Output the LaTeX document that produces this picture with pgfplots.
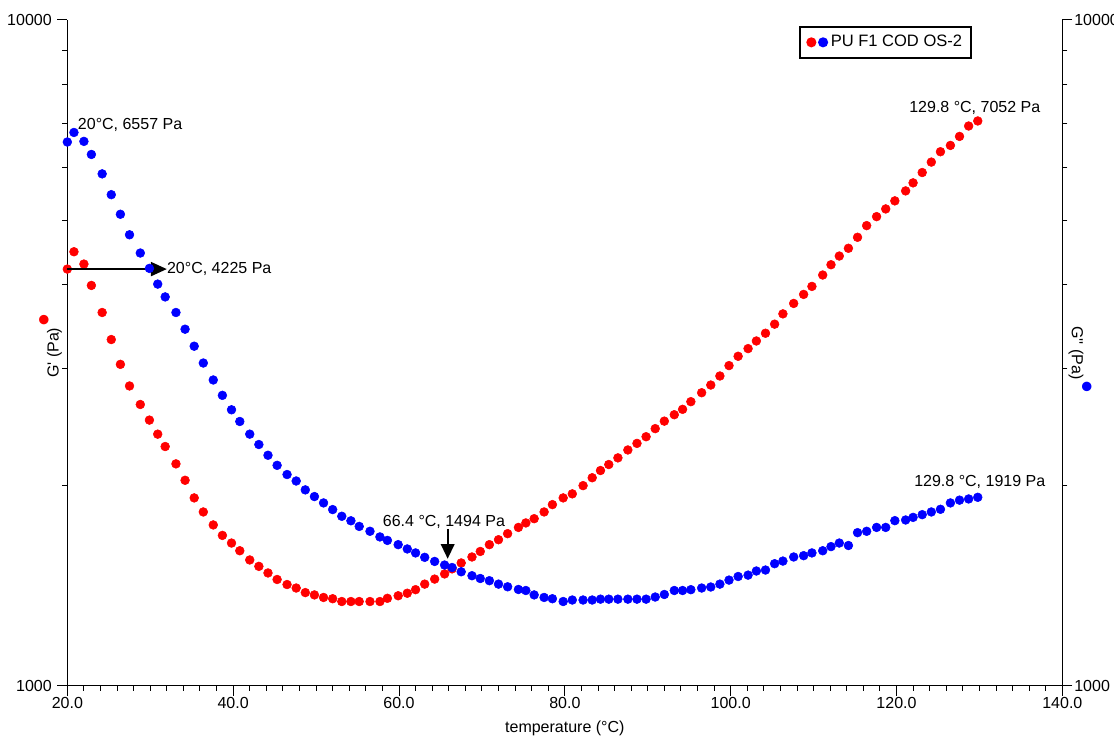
\documentclass[border=0pt]{standalone}
\usepackage{fontspec}
\setmainfont{Liberation Sans}
\newfontfamily\dejavu{DejaVu Sans}
\usepackage{pgfplots}
\pgfplotsset{compat=1.18}
\usepackage{pgfplotstable}
\usetikzlibrary{arrows.meta}

\pgfplotstableread{
T Gp Gpp
20.0 4225 6557
20.8 4486 6777
22.0 4299 6571
22.9 3993 6281
24.2 3636 5873
25.3 3311 5465
26.4 3039 5107
27.5 2820 4757
28.8 2645 4466
29.9 2506 4235
30.9 2387 4011
31.8 2287 3838
33.1 2154 3636
34.2 2035 3432
35.3 1915 3236
36.4 1824 3053
37.6 1744 2879
38.7 1682 2730
39.8 1638 2597
40.8 1595 2494
42.0 1545 2387
43.1 1511 2303
44.2 1477 2219
45.3 1444 2143
46.5 1419 2076
47.6 1402 2030
48.7 1380 1969
49.8 1369 1924
50.9 1357 1882
52.0 1351 1839
53.1 1338 1797
54.2 1338 1769
55.2 1338 1735
56.5 1338 1706
57.7 1338 1673
58.6 1353 1653
59.9 1365 1629
61.0 1377 1605
62.0 1394 1583
63.1 1421 1559
64.3 1446 1537
65.5 1472 1518
66.4 1498 1505
67.5 1529 1483
68.8 1561 1463
69.8 1591 1449
70.9 1629 1438
72.0 1657 1421
73.1 1692 1408
74.4 1729 1395
75.3 1756 1390
76.3 1782 1369
77.5 1824 1357
78.5 1871 1351
79.8 1915 1338
80.9 1942 1345
82.2 1998 1345
83.3 2053 1345
84.3 2105 1349
85.3 2149 1349
86.4 2199 1349
87.6 2260 1349
88.7 2312 1349
89.8 2366 1349
90.9 2433 1359
92.0 2497 1371
93.2 2553 1390
94.2 2601 1390
95.2 2671 1394
96.5 2755 1402
97.6 2829 1407
98.7 2919 1421
99.8 3026 1441
100.9 3125 1459
102.1 3209 1466
103.1 3295 1487
104.2 3384 1492
105.3 3492 1525
106.3 3619 1539
107.6 3752 1561
108.8 3871 1568
109.8 3980 1583
111.1 4139 1595
112.1 4289 1618
113.1 4420 1638
114.2 4540 1624
115.3 4716 1698
116.4 4910 1706
117.6 5065 1729
118.7 5202 1729
119.8 5349 1770
121.1 5537 1774
122.0 5693 1790
123.1 5900 1807
124.2 6117 1824
125.3 6340 1841
126.5 6480 1882
127.6 6685 1900
128.7 6930 1908
129.8 7052 1919
}\datatable

\begin{document}
\fontsize{12}{14}\selectfont
\begin{tikzpicture}
\begin{axis}[
  scale only axis,
  width=746.25pt, height=499.3pt,
  xmin=20, xmax=140,
  ymode=log, ymin=1000, ymax=10000,
  ytick={1000,10000}, yticklabels={1000,10000},
  minor ytick={2000,3000,4000,5000,6000,7000,8000,9000},
  major tick length=7.5pt, minor tick length=3.75pt,
  tick style={black, line width=0.75pt},
  tick label style={font=\fontsize{12}{14}\selectfont, black},
  label style={font=\fontsize{12}{14}\selectfont, black},
  clip=false,
  axis x line=bottom, axis y line=left,
  tick align=outside,
  axis line style={black, line width=0.75pt, -},
  x axis line style={-}, y axis line style={-},
  every outer x axis line/.append style={-},
  every outer y axis line/.append style={-},
  every inner x axis line/.append style={-},
  every inner y axis line/.append style={-},
  xtick={20,40,...,140}, minor x tick num=9,
  xticklabel style={yshift=3pt, /pgf/number format/.cd, fixed, fixed zerofill, precision=1, assume math mode=true},
  xlabel={temperature (°C)},
  every axis x label/.style={at={(axis description cs:0.5,0)}, anchor=center, yshift=-32pt},
  ylabel={G\textquotesingle{} (Pa)\rlap{\hspace{1.5pt}\raisebox{8.7pt}{\fontsize{9.3}{10}\dejavu\color{red}●}}},
  every axis y label/.style={at={(axis description cs:0,0.5)}, xshift=-12.6pt, rotate=90, anchor=center},
  legend style={at={(0.7357,0.9914)}, anchor=north west, draw=black, line width=1.5pt, fill=white,
    inner xsep=4.5pt, inner ysep=4.5pt, font=\fontsize{12.4}{14}\selectfont},
  legend cell align=left,
  legend image code/.code={\fill[red] (0pt,0pt) circle (3pt); \fill[blue] (8.8pt,0pt) circle (3pt);},
]
\addplot[only marks, mark=*, mark size=3.3pt, color=red] table[x=T, y=Gp] {\datatable};
\addlegendentry{PU F1 COD OS-2}
\end{axis}
\begin{axis}[
  scale only axis,
  width=746.25pt, height=499.3pt,
  xmin=20, xmax=140,
  ymode=log, ymin=1000, ymax=10000,
  ytick={1000,10000}, yticklabels={1000,10000},
  minor ytick={2000,3000,4000,5000,6000,7000,8000,9000},
  major tick length=7.5pt, minor tick length=3.75pt,
  tick style={black, line width=0.75pt},
  tick label style={font=\fontsize{12}{14}\selectfont, black},
  label style={font=\fontsize{12}{14}\selectfont, black},
  clip=false,
  axis x line=none, axis y line=right,
  tick align=outside,
  axis line style={black, line width=0.75pt, -},
  x axis line style={-}, y axis line style={-},
  every outer y axis line/.append style={-},
  every inner y axis line/.append style={-},
  yticklabel style={xshift=-2.7pt},
  ylabel={G\textquotesingle\textquotesingle{} (Pa)\rlap{\hspace{1.7pt}\raisebox{8.7pt}{\fontsize{9.3}{10}\dejavu\color{blue}●}}},
  every axis y label/.style={at={(axis description cs:1,0.5)}, xshift=13.3pt, rotate=-90, anchor=center},
]
\addplot[only marks, mark=*, mark size=3.3pt, color=blue] table[x=T, y=Gpp] {\datatable};
\draw[line width=1.7pt, -{Triangle[length=12pt,width=10.5pt]}] (axis cs:20,4225) -- (axis cs:32.0,4225);
\node[anchor=west, inner sep=0pt] at (axis cs:32.0,4225) {20°C, 4225 Pa};
\node[anchor=west, inner sep=0pt] at (axis cs:21.25,6960) {20°C, 6557 Pa};
\node[anchor=west, inner sep=0pt] at (axis cs:58.03,1765) {66.4 °C, 1494 Pa};
\draw[line width=1.7pt, -{Triangle[length=11pt,width=10pt]}] (axis cs:65.87,1721) -- (axis cs:65.87,1551);
\node[anchor=east, inner sep=0pt] at (axis cs:137.37,7381) {129.8 °C, 7052 Pa};
\node[anchor=east, inner sep=0pt] at (axis cs:137.97,2025) {129.8 °C, 1919 Pa};
\end{axis}
\pgfresetboundingbox
\useasboundingbox (-50.5pt,-37.0pt) rectangle (785.0pt,514.3pt);
\end{tikzpicture}
\end{document}
